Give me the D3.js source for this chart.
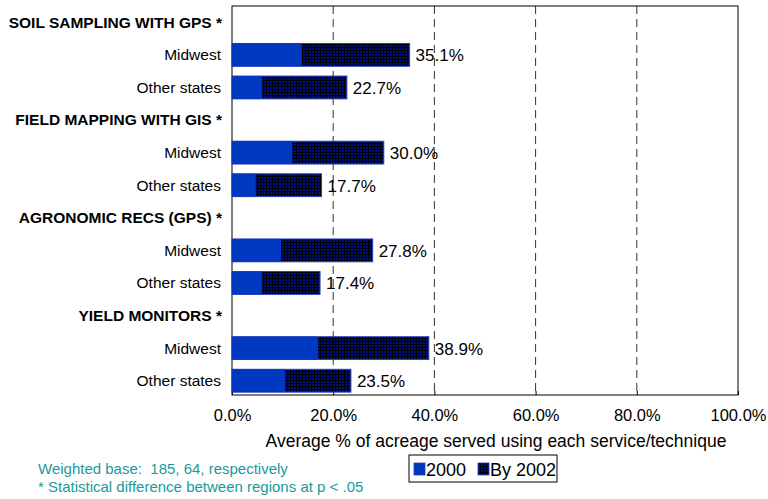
<!DOCTYPE html>
<html>
<head>
<meta charset="utf-8">
<script src="https://cdn.jsdelivr.net/npm/d3@7"></script>
<style>
  body { margin: 0; background: #fff; }
  svg text { font-family: "Liberation Sans", Arial, sans-serif; }
</style>
</head>
<body>
<svg id="chart" width="768" height="499"></svg>
<script>
// rows of the chart (headers + regions)
var rows = [
  "SOIL SAMPLING WITH GPS *", "Midwest", "Other states",
  "FIELD MAPPING WITH GIS *", "Midwest", "Other states",
  "AGRONOMIC RECS (GPS) *", "Midwest", "Other states",
  "YIELD MONITORS *", "Midwest", "Other states"
];
var isHeader = [true, false, false, true, false, false, true, false, false, true, false, false];
// values (%), null for header rows
var val2000 = [null, 13.8, 5.9, null, 11.9, 4.7, null, 9.7, 5.9, null, 17.0, 10.5];
var valBy2002 = [null, 35.1, 22.7, null, 30.0, 17.7, null, 27.8, 17.4, null, 38.9, 23.5];
var ticks = [0, 20, 40, 60, 80, 100];
var seriesNames = ["2000", "By 2002"];
var footnotes = ["Weighted base:  185, 64, respectively", "* Statistical difference between regions at p < .05"];

var svg = d3.select("#chart");
var plotL = 232, plotR = 738, plotT = 6, plotB = 395;

var x = d3.scaleLinear().domain([0, 100]).range([plotL, plotR]);
var y = d3.scaleBand().domain(d3.range(rows.length)).range([plotT, 397]).paddingInner(0.3).paddingOuter(0.15);

// motif quadrillé pour "By 2002"
var defs = svg.append("defs");
var pat = defs.append("pattern").attr("id", "grid").attr("width", 3).attr("height", 3)
  .attr("patternUnits", "userSpaceOnUse");
pat.append("rect").attr("width", 3).attr("height", 3).attr("fill", "#000000");
pat.append("rect").attr("width", 2).attr("height", 2).attr("fill", "#00107a");

// dashed gridlines
svg.append("g").selectAll("line")
  .data(ticks.filter(function(t) { return t > 0 && t < 100; }))
  .enter().append("line")
  .attr("x1", function(d) { return x(d); }).attr("x2", function(d) { return x(d); })
  .attr("y1", plotT).attr("y2", plotB)
  .attr("stroke", "#333").attr("stroke-width", 1).attr("stroke-dasharray", "8,5");

// frame
svg.append("rect").attr("x", plotL).attr("y", plotT).attr("width", plotR - plotL).attr("height", plotB - plotT)
  .attr("fill", "none").attr("stroke", "#000").attr("stroke-width", 1);

// bottom axis
var xAxis = d3.axisBottom(x).tickValues(ticks).tickSize(4).tickSizeOuter(0)
  .tickFormat(function(d) { return d.toFixed(1) + "%"; });
var ax = svg.append("g").attr("transform", "translate(0," + plotB + ")").call(xAxis);
ax.select(".domain").remove();
ax.selectAll(".tick line").attr("y1", -4).attr("y2", 0).attr("stroke", "#000");
ax.selectAll(".tick text").attr("y", 26).attr("dy", 0).attr("font-size", 16.5).attr("fill", "#000")
  .style("font-family", "Liberation Sans, Arial, sans-serif");

// row labels
svg.append("g").selectAll("text").data(rows).enter().append("text")
  .attr("x", function(d, i) { return isHeader[i] ? 222 : 221; })
  .attr("y", function(d, i) { return y(i) + y.bandwidth() / 2; })
  .attr("dy", "0.35em")
  .attr("text-anchor", "end")
  .attr("font-size", function(d, i) { return isHeader[i] ? 15.5 : 15.5; })
  .attr("font-weight", function(d, i) { return isHeader[i] ? "bold" : "normal"; })
  .text(function(d) { return d; });

var idx = d3.range(rows.length).filter(function(i) { return !isHeader[i]; });

// By 2002 bars (total)
svg.append("g").selectAll("rect").data(idx).enter().append("rect")
  .attr("x", x(0)).attr("y", function(i) { return y(i); })
  .attr("width", function(i) { return x(valBy2002[i]) - x(0); })
  .attr("height", y.bandwidth())
  .attr("fill", "url(#grid)").attr("stroke", "#2a3fbf").attr("stroke-width", 1);

// 2000 bars
svg.append("g").selectAll("rect").data(idx).enter().append("rect")
  .attr("x", x(0)).attr("y", function(i) { return y(i); })
  .attr("width", function(i) { return x(val2000[i]) - x(0); })
  .attr("height", y.bandwidth())
  .attr("fill", "#0038c0");

// value labels
svg.append("g").selectAll("text").data(idx).enter().append("text")
  .attr("x", function(i) { return x(valBy2002[i]) + 6; })
  .attr("y", function(i) { return y(i) + y.bandwidth() / 2; })
  .attr("dy", "0.38em")
  .attr("font-size", 17)
  .text(function(i) { return valBy2002[i].toFixed(1) + "%"; });

// axis title
svg.append("text").attr("x", 496).attr("y", 447).attr("text-anchor", "middle")
  .attr("font-size", 17.5).text("Average % of acreage served using each service/technique");

// footnotes
svg.append("g").selectAll("text").data(footnotes).enter().append("text")
  .attr("x", 38).attr("y", function(d, i) { return 474 + i * 18; })
  .attr("font-size", 15).attr("fill", "#1a9a9a").style("white-space", "pre").text(function(d) { return d; });

// legend
var lg = svg.append("g").attr("transform", "translate(409,455)");
lg.append("rect").attr("width", 148).attr("height", 27).attr("fill", "#fff").attr("stroke", "#000");
var swX = [5, 69];
lg.selectAll(".sw").data(seriesNames).enter().append("rect")
  .attr("x", function(d, i) { return swX[i]; }).attr("y", 8).attr("width", 11).attr("height", 12)
  .attr("fill", function(d, i) { return i === 0 ? "#0038c0" : "url(#grid)"; })
  .attr("stroke", "#2a3fbf").attr("stroke-width", 0.8);
lg.selectAll(".lt").data(seriesNames).enter().append("text")
  .attr("x", function(d, i) { return swX[i] + 12; }).attr("y", 21)
  .attr("font-size", 18).text(function(d) { return d; });
</script>
</body>
</html>
